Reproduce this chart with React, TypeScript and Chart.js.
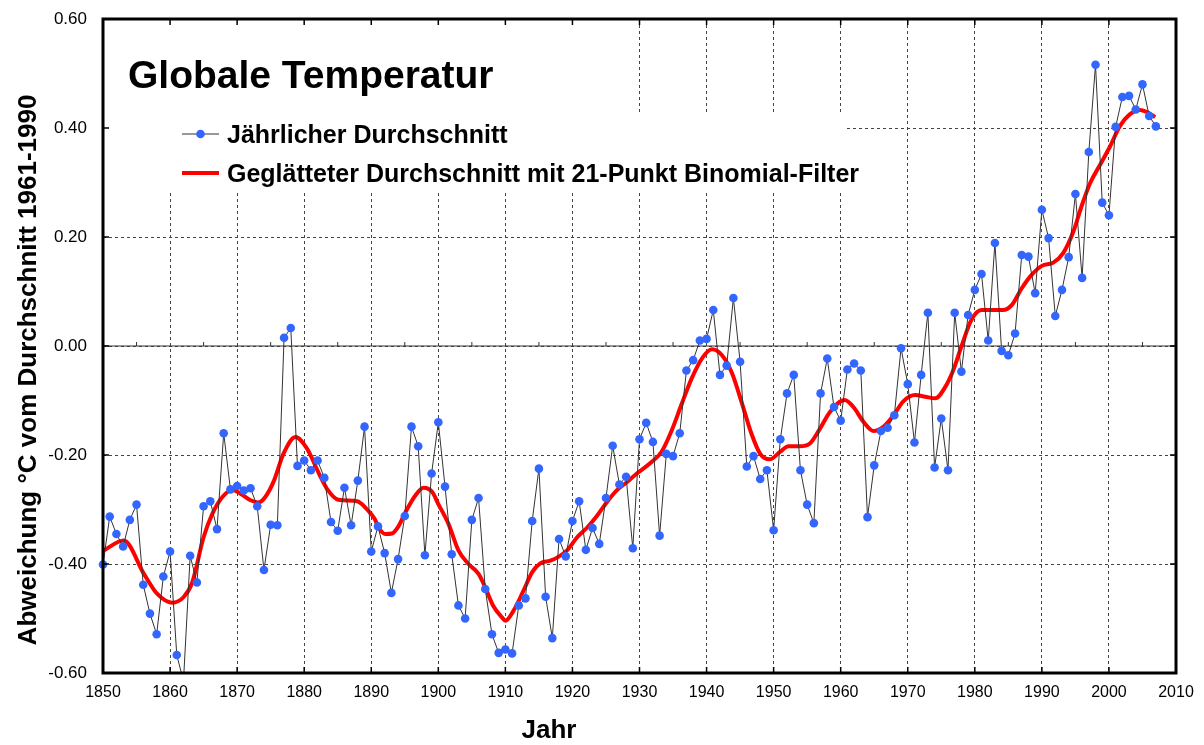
import React, { useEffect, useRef } from 'react';
import { Chart, registerables } from 'chart.js';

Chart.register(...registerables);

const FONT = "'Liberation Sans', Arial, Helvetica, sans-serif";

const TITLE = 'Globale Temperatur';
const LEGEND_ANNUAL = 'Jährlicher Durchschnitt';
const LEGEND_SMOOTH = 'Geglätteter Durchschnitt mit 21-Punkt Binomial-Filter';
const Y_TITLE = 'Abweichung °C vom Durchschnitt 1961-1990';
const X_TITLE = 'Jahr';

const years = [
  1850, 1851, 1852, 1853, 1854, 1855, 1856, 1857, 1858, 1859,
  1860, 1861, 1862, 1863, 1864, 1865, 1866, 1867, 1868, 1869,
  1870, 1871, 1872, 1873, 1874, 1875, 1876, 1877, 1878, 1879,
  1880, 1881, 1882, 1883, 1884, 1885, 1886, 1887, 1888, 1889,
  1890, 1891, 1892, 1893, 1894, 1895, 1896, 1897, 1898, 1899,
  1900, 1901, 1902, 1903, 1904, 1905, 1906, 1907, 1908, 1909,
  1910, 1911, 1912, 1913, 1914, 1915, 1916, 1917, 1918, 1919,
  1920, 1921, 1922, 1923, 1924, 1925, 1926, 1927, 1928, 1929,
  1930, 1931, 1932, 1933, 1934, 1935, 1936, 1937, 1938, 1939,
  1940, 1941, 1942, 1943, 1944, 1945, 1946, 1947, 1948, 1949,
  1950, 1951, 1952, 1953, 1954, 1955, 1956, 1957, 1958, 1959,
  1960, 1961, 1962, 1963, 1964, 1965, 1966, 1967, 1968, 1969,
  1970, 1971, 1972, 1973, 1974, 1975, 1976, 1977, 1978, 1979,
  1980, 1981, 1982, 1983, 1984, 1985, 1986, 1987, 1988, 1989,
  1990, 1991, 1992, 1993, 1994, 1995, 1996, 1997, 1998, 1999,
  2000, 2001, 2002, 2003, 2004, 2005, 2006, 2007,
];

const annual = [
  -0.401, -0.313, -0.345, -0.368, -0.319, -0.291, -0.438, -0.491, -0.529, -0.423,
  -0.377, -0.567, -0.615, -0.385, -0.434, -0.294, -0.285, -0.336, -0.160, -0.263,
  -0.257, -0.265, -0.261, -0.294, -0.411, -0.328, -0.329, 0.015, 0.033, -0.220,
  -0.210, -0.228, -0.210, -0.242, -0.323, -0.339, -0.260, -0.329, -0.247, -0.148,
  -0.377, -0.331, -0.380, -0.453, -0.391, -0.312, -0.148, -0.184, -0.384, -0.234,
  -0.140, -0.258, -0.382, -0.476, -0.500, -0.319, -0.279, -0.446, -0.529, -0.563,
  -0.557, -0.564, -0.476, -0.463, -0.321, -0.225, -0.460, -0.536, -0.354, -0.386,
  -0.321, -0.285, -0.374, -0.334, -0.363, -0.279, -0.183, -0.254, -0.240, -0.371,
  -0.171, -0.141, -0.176, -0.348, -0.198, -0.202, -0.160, -0.045, -0.026, 0.010,
  0.013, 0.066, -0.053, -0.036, 0.088, -0.029, -0.221, -0.202, -0.244, -0.228,
  -0.338, -0.171, -0.087, -0.053, -0.228, -0.291, -0.325, -0.087, -0.023, -0.112,
  -0.137, -0.043, -0.032, -0.045, -0.314, -0.219, -0.156, -0.150, -0.127, -0.004,
  -0.070, -0.177, -0.053, 0.061, -0.223, -0.133, -0.228, 0.061, -0.047, 0.057,
  0.103, 0.132, 0.010, 0.189, -0.009, -0.017, 0.023, 0.167, 0.164, 0.097,
  0.250, 0.198, 0.055, 0.103, 0.163, 0.279, 0.125, 0.356, 0.516, 0.263,
  0.240, 0.402, 0.457, 0.459, 0.434, 0.480, 0.422, 0.403,
];

const smoothYears = [
  1850.1, 1853.1, 1856.1, 1858.1, 1860.3, 1862.0, 1863.3, 1865.0, 1866.3, 1867.8,
  1869.3, 1870.5, 1872.0, 1873.2, 1874.2, 1875.5, 1876.9, 1878.7, 1880.4, 1882.2,
  1883.4, 1885.1, 1887.9, 1889.3, 1890.5, 1891.1, 1892.1, 1893.1, 1894.1, 1895.1,
  1896.6, 1897.8, 1899.1, 1900.0, 1901.5, 1903.0, 1904.5, 1906.0, 1907.0, 1908.2,
  1909.5, 1910.0, 1911.2, 1912.7, 1914.0, 1915.2, 1916.7, 1917.9, 1919.2, 1920.7,
  1922.2, 1923.7, 1925.1, 1926.6, 1928.1, 1929.6, 1931.8, 1933.3, 1934.8, 1936.3,
  1937.8, 1939.3, 1940.8, 1942.3, 1943.8, 1945.3, 1946.7, 1948.0, 1949.4, 1951.0,
  1952.2, 1953.9, 1955.4, 1956.9, 1958.4, 1960.6, 1961.9, 1963.4, 1964.9, 1966.4,
  1967.9, 1969.3, 1971.1, 1972.6, 1974.1, 1975.6, 1976.8, 1978.0, 1979.5, 1981.0,
  1982.5, 1984.2, 1985.5, 1987.0, 1988.5, 1990.0, 1991.7, 1993.2, 1994.7, 1995.9,
  1997.2, 1998.7, 2000.2, 2001.6, 2003.1, 2004.6, 2005.9, 2006.9,
];

const smoothValues = [
  -0.375, -0.357, -0.418, -0.455, -0.471, -0.461, -0.434, -0.351, -0.308, -0.277,
  -0.264, -0.271, -0.283, -0.287, -0.277, -0.247, -0.198, -0.167, -0.188, -0.234,
  -0.262, -0.282, -0.285, -0.299, -0.317, -0.333, -0.345, -0.344, -0.330, -0.305,
  -0.274, -0.260, -0.268, -0.290, -0.326, -0.375, -0.400, -0.418, -0.443, -0.477,
  -0.498, -0.504, -0.486, -0.449, -0.415, -0.399, -0.394, -0.387, -0.375, -0.351,
  -0.333, -0.311, -0.287, -0.265, -0.250, -0.234, -0.213, -0.194, -0.155, -0.106,
  -0.059, -0.023, -0.006, -0.017, -0.050, -0.106, -0.161, -0.198, -0.208, -0.194,
  -0.184, -0.184, -0.179, -0.152, -0.121, -0.099, -0.112, -0.139, -0.156, -0.148,
  -0.127, -0.102, -0.090, -0.093, -0.096, -0.075, -0.044, -0.001, 0.048, 0.066,
  0.066, 0.066, 0.075, 0.106, 0.131, 0.147, 0.153, 0.171, 0.210, 0.256,
  0.299, 0.333, 0.367, 0.403, 0.425, 0.433, 0.428, 0.420,
];

const X_MIN = 1850;
const X_MAX = 2010;
const X_STEP = 10;
const Y_MIN = -0.6;
const Y_MAX = 0.6;
const Y_STEP = 0.2;

const decorPlugin = {
  id: 'decor',
  beforeDatasetsDraw(chart: any) {
    const { ctx, chartArea: a, scales } = chart;
    const y0 = scales.y.getPixelForValue(0);
    ctx.save();
    // white panels behind title and legend
    ctx.fillStyle = '#ffffff';
    ctx.fillRect(a.left + 1, a.top + 1, 605 - a.left, 114 - a.top);
    ctx.fillRect(a.left + 1, 113, 845 - a.left, 80);
    // solid zero line
    ctx.strokeStyle = '#333333';
    ctx.lineWidth = 1.2;
    ctx.beginPath();
    ctx.moveTo(a.left, y0);
    ctx.lineTo(a.right, y0);
    ctx.stroke();
    // minor ticks on zero line
    ctx.lineWidth = 1;
    for (let yr = X_MIN + 5; yr < X_MAX; yr += 10) {
      const px = scales.x.getPixelForValue(yr);
      ctx.beginPath();
      ctx.moveTo(px, y0);
      ctx.lineTo(px, y0 - 4);
      ctx.stroke();
    }
    ctx.restore();
  },
  afterDatasetsDraw(chart: any) {
    const { ctx, chartArea: a, scales } = chart;
    ctx.save();
    // frame
    ctx.strokeStyle = '#000000';
    ctx.lineWidth = 3;
    ctx.strokeRect(a.left, a.top, a.right - a.left, a.bottom - a.top);
    // inward major ticks
    ctx.lineWidth = 1.5;
    for (let yr = X_MIN + X_STEP; yr < X_MAX; yr += X_STEP) {
      const px = scales.x.getPixelForValue(yr);
      ctx.beginPath();
      ctx.moveTo(px, a.top);
      ctx.lineTo(px, a.top + 6);
      ctx.moveTo(px, a.bottom);
      ctx.lineTo(px, a.bottom - 6);
      ctx.stroke();
    }
    for (let v = Y_MIN + Y_STEP; v < Y_MAX - 1e-6; v += Y_STEP) {
      const py = scales.y.getPixelForValue(v);
      ctx.beginPath();
      ctx.moveTo(a.left, py);
      ctx.lineTo(a.left + 6, py);
      ctx.moveTo(a.right, py);
      ctx.lineTo(a.right - 6, py);
      ctx.stroke();
    }
    ctx.restore();
  },
  afterDraw(chart: any) {
    const { ctx } = chart;
    ctx.save();
    ctx.fillStyle = '#000000';
    ctx.textBaseline = 'alphabetic';
    ctx.textAlign = 'left';
    // title
    ctx.font = `bold 39px ${FONT}`;
    ctx.fillText(TITLE, 128, 88);
    // legend
    ctx.font = `bold 25px ${FONT}`;
    ctx.fillText(LEGEND_ANNUAL, 227, 143);
    ctx.fillText(LEGEND_SMOOTH, 227, 182);
    ctx.strokeStyle = '#333333';
    ctx.lineWidth = 1;
    ctx.beginPath();
    ctx.moveTo(182, 134);
    ctx.lineTo(219, 134);
    ctx.stroke();
    ctx.fillStyle = '#3366ff';
    ctx.beginPath();
    ctx.arc(200.5, 134, 4.3, 0, Math.PI * 2);
    ctx.fill();
    ctx.strokeStyle = '#ff0000';
    ctx.lineWidth = 4;
    ctx.beginPath();
    ctx.moveTo(182, 173);
    ctx.lineTo(219, 173);
    ctx.stroke();
    // axis titles
    ctx.fillStyle = '#000000';
    ctx.font = `bold 26px ${FONT}`;
    ctx.textAlign = 'center';
    ctx.textBaseline = 'middle';
    ctx.fillText(X_TITLE, 549, 731);
    ctx.translate(29, 370);
    ctx.rotate(-Math.PI / 2);
    ctx.fillText(Y_TITLE, 0, 0);
    ctx.restore();
  },
};

function gridColor(edgeA: number, edgeB: number) {
  return (c: any) => {
    const v = c.tick ? c.tick.value : null;
    if (v === null) return '#444444';
    if (Math.abs(v - edgeA) < 1e-6 || Math.abs(v - edgeB) < 1e-6) return 'rgba(0,0,0,0)';
    return '#444444';
  };
}

export default function App() {
  const ref = useRef<HTMLCanvasElement>(null);

  useEffect(() => {
    if (!ref.current) return;
    const annualPoints = years.map((yr, i) => ({ x: yr, y: annual[i] }));
    const smoothPoints = smoothYears.map((yr, i) => ({ x: yr, y: smoothValues[i] }));

    const chart = new Chart(ref.current, {
      type: 'line',
      data: {
        datasets: [
          {
            label: LEGEND_ANNUAL,
            data: annualPoints,
            borderColor: '#333333',
            borderWidth: 1,
            pointBackgroundColor: '#3366ff',
            pointBorderWidth: 0,
            pointRadius: 4.3,
            tension: 0,
            order: 0,
            clip: { left: 6, top: 6, right: 6, bottom: 0 } as any,
          },
          {
            label: LEGEND_SMOOTH,
            data: smoothPoints,
            borderColor: '#ff0000',
            borderWidth: 4,
            pointRadius: 0,
            cubicInterpolationMode: 'monotone',
            order: 1,
          },
        ],
      },
      options: {
        responsive: false,
        animation: false,
        devicePixelRatio: 1,
        layout: { padding: { left: 0, right: 28, top: 19, bottom: 0 } },
        plugins: {
          legend: { display: false },
          title: { display: false },
          tooltip: { enabled: false },
        },
        scales: {
          x: {
            type: 'linear',
            min: X_MIN,
            max: X_MAX,
            afterFit: (s: any) => { s.height = 72; },
            ticks: {
              stepSize: X_STEP,
              autoSkip: false,
              maxRotation: 0,
              padding: 10,
              color: '#000000',
              font: { family: FONT, size: 16 },
              callback: (v: any) => String(v),
            },
            grid: {
              color: gridColor(X_MIN, X_MAX),
              lineWidth: 1,
              drawTicks: false,
            },
            border: { display: false, dash: [3, 3] },
          },
          y: {
            type: 'linear',
            min: Y_MIN,
            max: Y_MAX,
            afterFit: (s: any) => { s.width = 103; },
            ticks: {
              stepSize: Y_STEP,
              padding: 0,
              color: '#000000',
              font: { family: FONT, size: 17 },
              callback: (v: any) => (Math.abs(v) < 1e-9 ? '0.00' : Number(v).toFixed(2)),
            },
            grid: {
              color: gridColor(Y_MIN, Y_MAX),
              lineWidth: 1,
              drawTicks: true,
              tickLength: 16,
              tickColor: 'rgba(0,0,0,0)',
            },
            border: { display: false, dash: [3, 3] },
          },
        },
      },
      plugins: [decorPlugin],
    } as any);

    return () => chart.destroy();
  }, []);

  return (
    <div style={{ position: 'absolute', left: 0, top: 0, width: 1204, height: 745, background: '#ffffff' }}>
      <canvas ref={ref} width={1204} height={745} style={{ width: 1204, height: 745, display: 'block' }} />
    </div>
  );
}
